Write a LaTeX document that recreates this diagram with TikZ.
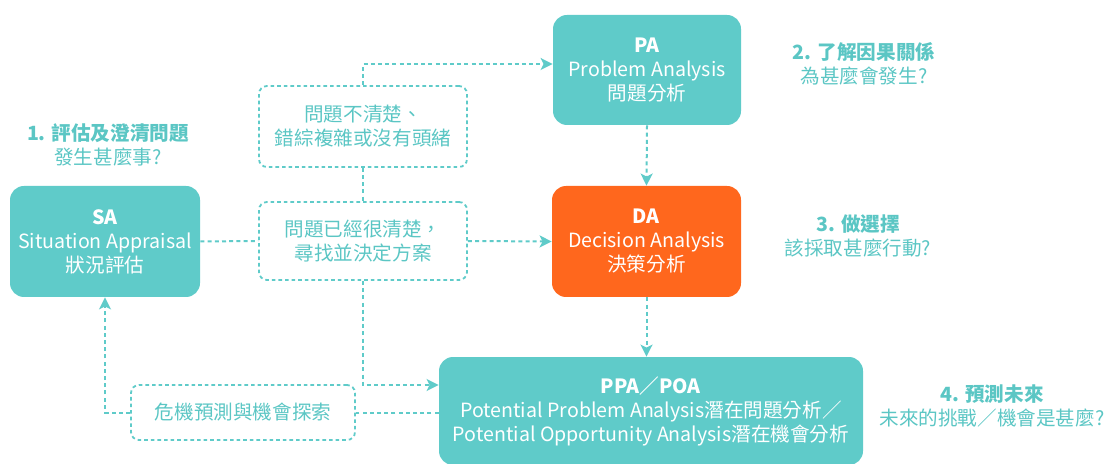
\documentclass[tikz,border=0pt]{standalone}
\usepackage{fontspec}
\setmainfont{Noto Sans CJK TC}
\usepackage{tikz}
\usetikzlibrary{arrows.meta}

\definecolor{kteal}{HTML}{5FCBC9}
\definecolor{kteallabel}{HTML}{5BC6C4}
\definecolor{korange}{HTML}{FF671D}

\tikzset{
  stagebox/.style={fill=kteal, rounded corners=7pt, text=white, align=center,
    font=\fontsize{9.8}{12}\selectfont, inner sep=0pt},
  decisionbox/.style={stagebox, fill=korange},
  notebox/.style={draw=kteal, line width=0.9pt, dash pattern=on 1.8pt off 1.5pt,
    rounded corners=4pt, text=kteallabel, align=center,
    font=\fontsize{9.8}{12}\selectfont, inner sep=0pt},
  steplabel/.style={text=kteallabel, align=center, font=\fontsize{9.8}{12}\selectfont},
  flow/.style={draw=kteal, line width=1pt, dash pattern=on 2pt off 1.6pt},
  flowarrow/.style={flow, -{Stealth[length=6pt, width=6pt, inset=1.5pt]}}
}

\begin{document}
\begin{tikzpicture}[x=0.5pt, y=-0.5pt]
\useasboundingbox (0,0) rectangle (1106,464);

\node[stagebox, minimum width=95pt, minimum height=55.5pt] (sa) at (105,241.5)
  {\textbf{SA}\\Situation Appraisal\\狀況評估};
\node[stagebox, minimum width=94pt, minimum height=55pt] (pa) at (647,70)
  {\textbf{PA}\\Problem Analysis\\問題分析};
\node[decisionbox, minimum width=94.5pt, minimum height=55.5pt] (da) at (646.5,241.5)
  {\textbf{DA}\\Decision Analysis\\決策分析};
\node[stagebox, minimum width=212pt, minimum height=54pt] (ppa) at (651,411)
  {\textbf{PPA／POA}\\Potential Problem Analysis潛在問題分析／\\Potential Opportunity Analysis潛在機會分析};

\node[notebox, minimum width=104pt, minimum height=40.5pt] (unclear) at (363,126.5)
  {問題不清楚、\\錯綜複雜或沒有頭緒};
\node[notebox, minimum width=104pt, minimum height=39pt] (clear) at (363,241)
  {問題已經很清楚，\\尋找並決定方案};
\node[notebox, minimum width=112pt, minimum height=27.5pt] (risk) at (243,412.5)
  {危機預測與機會探索};

\node[steplabel] (sal) at (108,145) {\textbf{1. 評估及澄清問題}\\發生甚麼事?};
\node[steplabel] (pal) at (864,64) {\textbf{2. 了解因果關係}\\為甚麼會發生?};
\node[steplabel] (dal) at (858,236) {\textbf{3. 做選擇}\\該採取甚麼行動?};
\node[steplabel] (ppal) at (992,406) {\textbf{4. 預測未來}\\未來的挑戰／機會是甚麼?};

\draw[flowarrow] (unclear.north) |- ([yshift=3pt]pa.west);
\draw[flow] (unclear.south) -- (clear.north);
\draw[flow] (sa.east) -- (clear.west);
\draw[flowarrow] (clear.east) -- (da.west);
\draw[flowarrow] (clear.south) |- ([yshift=13pt]ppa.west);
\draw[flowarrow] (pa.south) -- (da.north);
\draw[flowarrow] (da.south) -- (da.south |- ppa.north);
\draw[flow] (risk.east -| ppa.west) -- (risk.east);
\draw[flowarrow] (risk.west) -| (sa.south);
\end{tikzpicture}
\end{document}
